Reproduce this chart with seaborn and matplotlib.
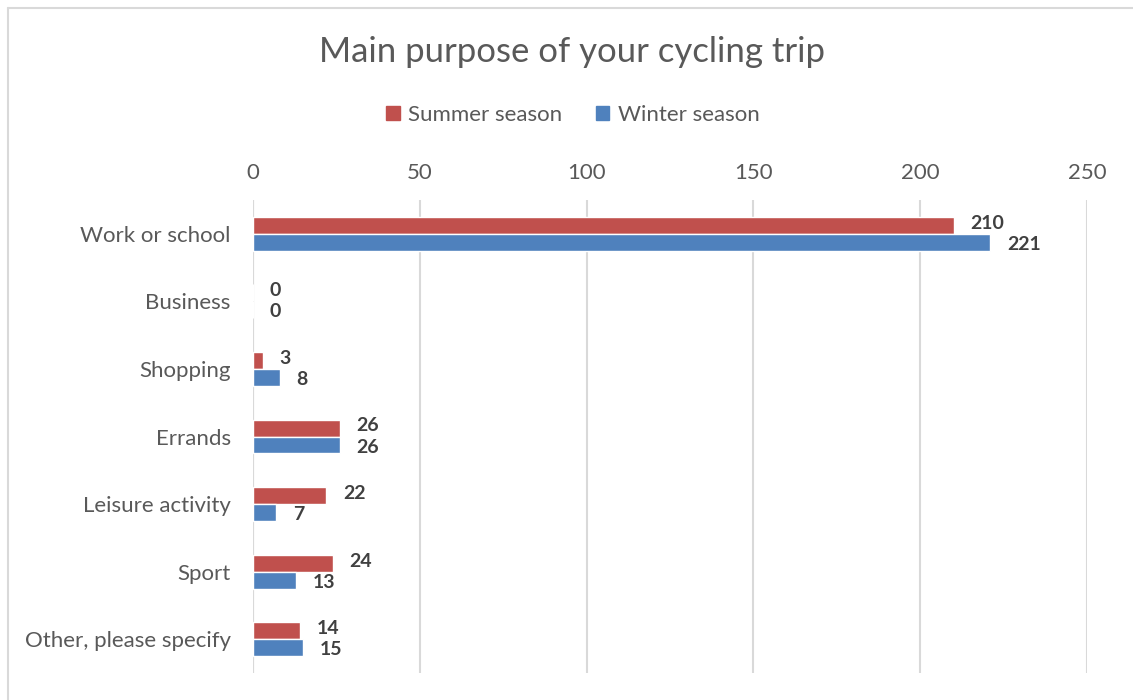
import matplotlib
matplotlib.use("Agg")
import matplotlib.pyplot as plt
from matplotlib.lines import Line2D
import seaborn as sns
import pandas as pd

categories = ["Work or school", "Business", "Shopping", "Errands",
              "Leisure activity", "Sport", "Other, please specify"]
summer = [210, 0, 3, 26, 22, 24, 14]
winter = [221, 0, 8, 26, 7, 13, 15]
series_names = ["Summer season", "Winter season"]
x_ticks = [0, 50, 100, 150, 200, 250]

colors = ["#C0504D", "#4F81BD"]
text_gray = "#595959"
grid_gray = "#D9D9D9"

sns.set_theme(style="white")
plt.rcParams["font.family"] = ["Lato", "DejaVu Sans"]

df = pd.DataFrame({
    "purpose": categories * 2,
    "count": summer + winter,
    "season": [series_names[0]] * len(categories) + [series_names[1]] * len(categories),
})

fig = plt.figure(figsize=(11.33, 7.0), dpi=100)
ax = fig.add_axes([253 / 1133, 1 - 673 / 700, 834 / 1133, 473 / 700])

sns.barplot(data=df, y="purpose", x="count", hue="season", orient="h",
            order=categories, hue_order=series_names, palette=colors,
            width=0.5, saturation=1, ax=ax, legend=False, errorbar=None)

# value labels just right of each bar end, nudged apart vertically
for cont, dy, values in zip(ax.containers, (1.5, -1.5), (summer, winter)):
    for bar, val in zip(cont, values):
        ax.annotate(f"{val}", xy=(bar.get_width(), bar.get_y() + bar.get_height() / 2),
                    xytext=(12, dy), textcoords="offset points", ha="left", va="center",
                    fontsize=14, fontweight="bold", color="#404040")

ax.set_xlim(0, 250)
ax.set_ylim(6.5, -0.5)
ax.set_xticks(x_ticks)
ax.xaxis.tick_top()
ax.tick_params(axis="x", length=0, pad=12, labelsize=16, labelcolor=text_gray)
ax.tick_params(axis="y", length=0, pad=16, labelsize=16, labelcolor=text_gray)
ax.set_xlabel("")
ax.set_ylabel("")
ax.grid(axis="x", color=grid_gray, linewidth=1.5)
ax.set_axisbelow(True)
for s in ax.spines.values():
    s.set_visible(False)
ax.axvline(0, color=grid_gray, linewidth=1.5, zorder=0)

fig.text(572 / 1133, 1 - 52 / 700, "Main purpose of your cycling trip",
         ha="center", va="center", fontsize=25, color=text_gray)

handles = [plt.Rectangle((0, 0), 1, 1, color=c) for c in colors]
fig.legend(handles, series_names, loc="center", bbox_to_anchor=(573 / 1133, 1 - 115 / 700),
           ncol=2, frameon=False, fontsize=16, labelcolor=text_gray,
           handlelength=0.6, handleheight=0.6, handletextpad=0.4, columnspacing=1.5)

# thin frame around the chart area
fig.add_artist(Line2D([8 / 1133, 1], [1 - 8 / 700, 1 - 8 / 700], transform=fig.transFigure,
                      color=grid_gray, linewidth=1.5))
fig.add_artist(Line2D([8 / 1133, 8 / 1133], [0, 1 - 8 / 700], transform=fig.transFigure,
                      color=grid_gray, linewidth=1.5))

fig.savefig("out.png", dpi=100)
